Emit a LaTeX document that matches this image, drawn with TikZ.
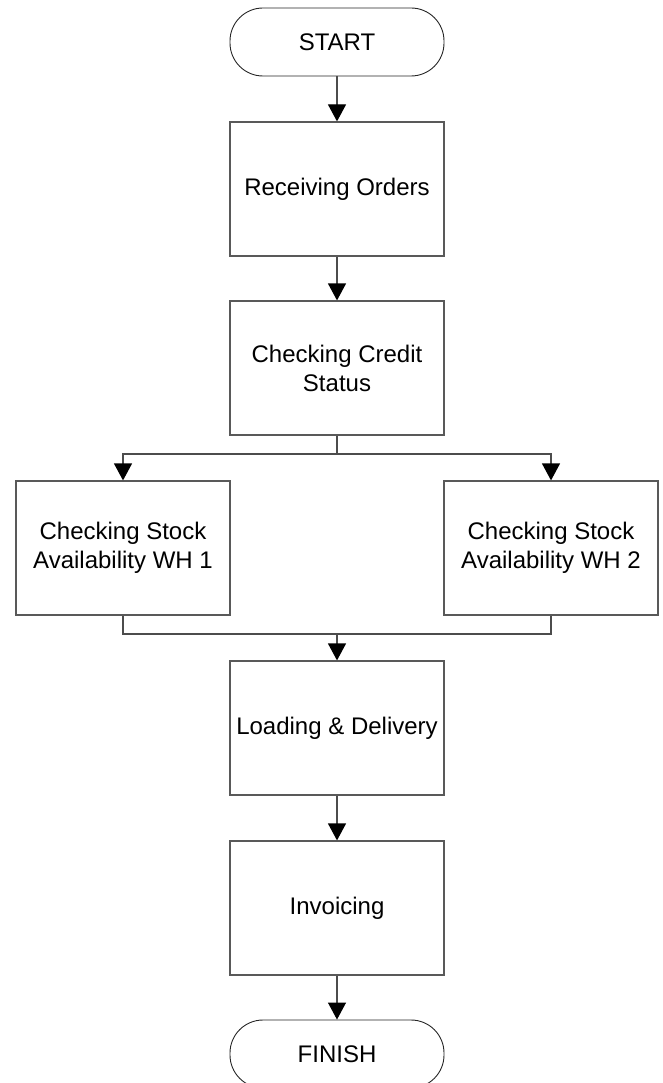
\documentclass[tikz,border=0pt]{standalone}
\usepackage{fontspec}
\setmainfont{Liberation Sans}
\usetikzlibrary{arrows.meta}
\begin{document}
\begin{tikzpicture}[x=1pt,y=1pt,
  every node/.style={font=\fontsize{24}{29}\selectfont, align=center, inner sep=0pt},
  procbox/.style={draw=black!65, line width=1.2pt, minimum width=214pt, minimum height=134pt},
  termbox/.style={draw=black!85, line width=0.9pt, rounded corners=33pt, minimum width=214pt, minimum height=68pt},
  conn/.style={draw=black!70, line width=1.2pt},
  arr/.style={conn, -{Triangle[width=18pt,length=17pt,color=black]}}
]
\useasboundingbox (0,0) rectangle (663,-1083);
\node[termbox] (start) at (337,-42) {START};
\node[procbox] (recv) at (337,-189) {Receiving Orders};
\node[procbox] (credit) at (337,-368) {Checking Credit\\Status};
\node[procbox] (wh1) at (123,-548) {Checking Stock\\Availability WH 1};
\node[procbox] (wh2) at (551,-548) {Checking Stock\\Availability WH 2};
\node[procbox] (load) at (337,-728) {Loading \& Delivery};
\node[procbox] (inv) at (337,-908) {Invoicing};
\node[termbox] (finish) at (337,-1054) {FINISH};
\coordinate (split) at (337,-454);
\coordinate (merge) at (337,-634);
\draw[arr] (start) -- (recv);
\draw[arr] (recv) -- (credit);
\draw[conn] (credit.south) -- (split);
\draw[arr] (split) -| (wh1.north);
\draw[arr] (split) -| (wh2.north);
\draw[conn] (wh1.south) |- (merge) -| (wh2.south);
\draw[arr] (merge) -- (load);
\draw[arr] (load) -- (inv);
\draw[arr] (inv) -- (finish);
\end{tikzpicture}
\end{document}
